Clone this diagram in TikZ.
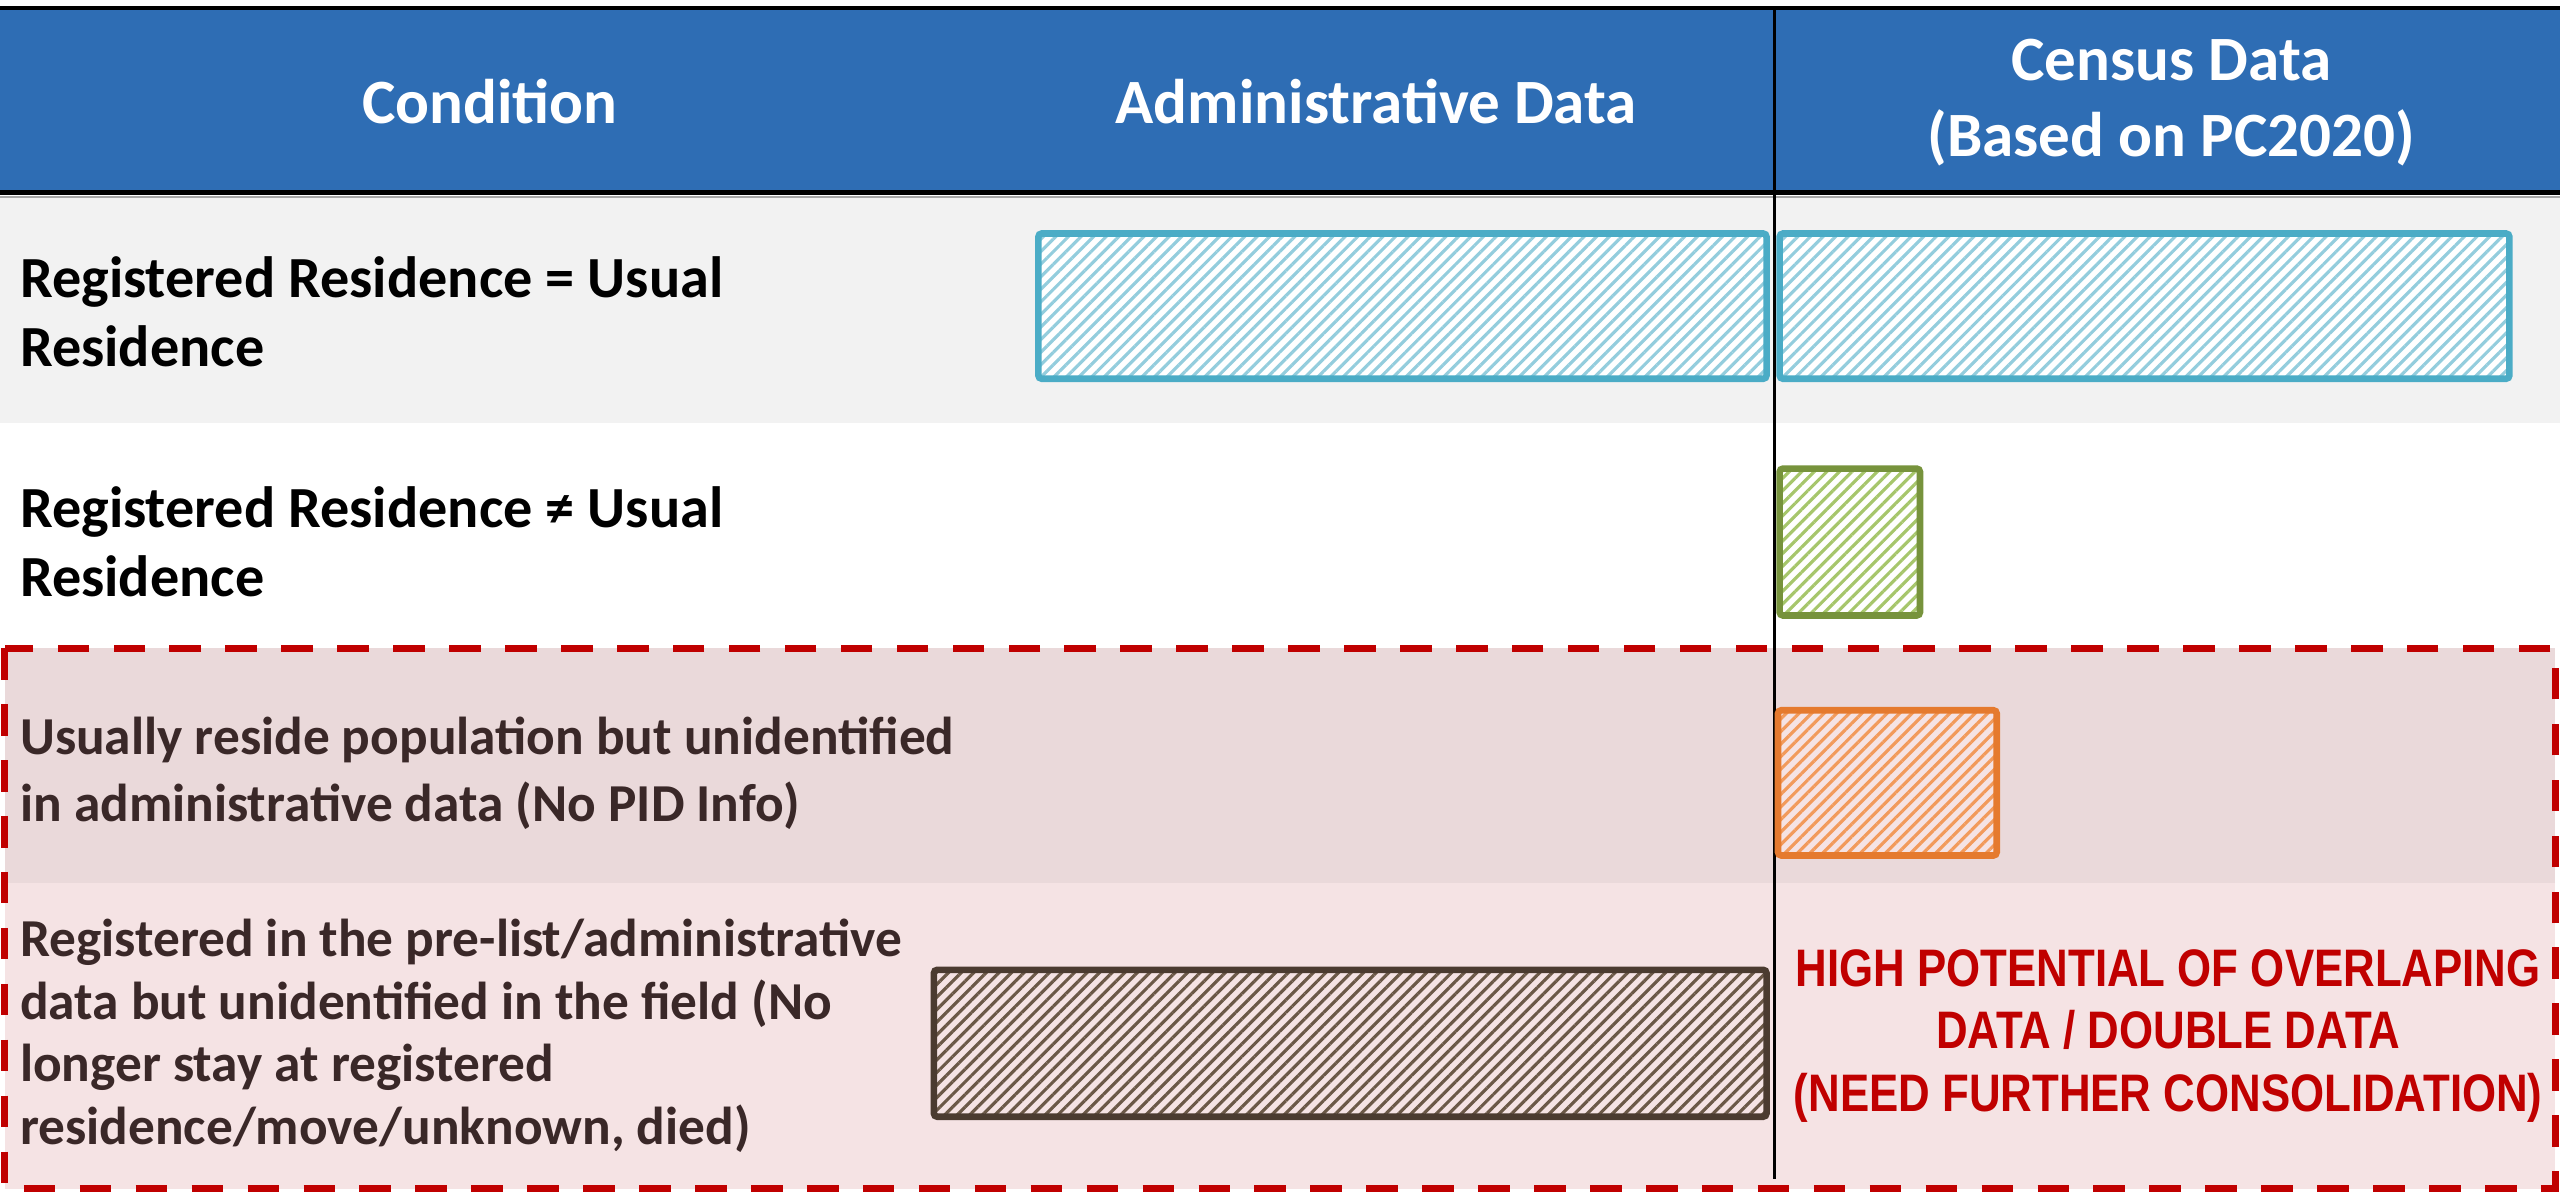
\documentclass[tikz,border=0pt]{standalone}
\usepackage{fontspec}
\setmainfont{Carlito}
\newfontfamily\narrowsans{Liberation Sans}[FakeStretch=0.83]
\usetikzlibrary{patterns.meta}

\definecolor{headblue}{HTML}{2E6DB4}
\definecolor{rowgray}{HTML}{F2F2F2}
\definecolor{rowthree}{HTML}{EAD9DA}
\definecolor{rowfour}{HTML}{F5E3E4}
\definecolor{darktext}{HTML}{3A2828}
\definecolor{alertred}{HTML}{C00000}
\definecolor{aqualine}{HTML}{4BACC6}
\definecolor{aquastripe}{HTML}{93CDDD}
\definecolor{greenline}{HTML}{77933C}
\definecolor{greenstripe}{HTML}{A6C66B}
\definecolor{orangeline}{HTML}{E57A2E}
\definecolor{orangestripe}{HTML}{F29A5B}
\definecolor{brownline}{HTML}{4B3B30}
\definecolor{brownstripe}{HTML}{6B5847}

\begin{document}
\begin{tikzpicture}[x=0.02cm,y=-0.02cm]
	\tikzset{headlabel/.style = {align=center,inner sep=0pt,text=white,font=\bfseries\fontsize{22}{26.5}\selectfont}}
	\tikzset{rowlabel/.style = {anchor=west,align=left,inner sep=0pt,font=\bfseries\fontsize{20.3}{24}\selectfont}}
	\tikzset{pinklabel/.style = {rowlabel,text=darktext}}
	\tikzset{redlabel/.style = {align=center,inner sep=0pt,text=alertred,font=\narrowsans\bfseries\fontsize{18.4}{21.8}\selectfont}}
	\tikzset{bar/.style n args = {3}{draw=#1,line width=2.3pt,rounded corners=1.2pt,
		preaction={fill=#3},
		preaction={pattern={Lines[angle=45,distance=3.1pt,line width=1.1pt]},pattern color=#2}}}
	\useasboundingbox (0,0) rectangle (1568,730);
	% table body
	\fill[headblue] (0,5) rectangle (1568,117);
	\fill[rowgray] (0,120) rectangle (1568,259);
	\fill[rowthree] (3,397) rectangle (1565,541);
	\fill[rowfour] (3,541) rectangle (1565,728);
	\draw[line width=1.2pt] (0,5) -- (1568,5);
	\draw[line width=1.8pt] (0,118) -- (1568,118);
	\draw[black!35,line width=0.6pt] (0,120.5) -- (1568,120.5);
	\draw[line width=0.9pt] (1087,5) -- (1087,722);
	% header
	\node[headlabel] (hcond) at (300,62) {Condition};
	\node[headlabel] (hadmin) at (843,62) {Administrative Data};
	\node[headlabel] (hcensus) at (1330,63) {Census Data\\(Based on PC2020)};
	% conditions
	\node[rowlabel] (rsame) at (12,191) {Registered Residence = Usual\\Residence};
	\node[rowlabel] (rdiff) at (12,332) {Registered Residence ≠ Usual\\Residence};
	\node[pinklabel,font=\bfseries\fontsize{18.6}{23.2}\selectfont] (rnopid) at (12,473.5) {Usually reside population but unidentified\\in administrative data (No PID Info)};
	\node[pinklabel,font=\bfseries\fontsize{18.6}{21.8}\selectfont] (rgone) at (12,634.5) {Registered in the pre-list/administrative\\data but unidentified in the field (No\\longer stay at registered\\residence/move/unknown, died)};
	% bars
	\draw[bar={aqualine}{aquastripe}{white}] (636,143) rectangle (1082,232);
	\draw[bar={aqualine}{aquastripe}{white}] (1090,143) rectangle (1537,232);
	\draw[bar={greenline}{greenstripe}{white}] (1090,287) rectangle (1176,377);
	\draw[bar={orangeline}{orangestripe}{rowfour}] (1089,435) rectangle (1223,524);
	\draw[bar={brownline}{brownstripe}{rowfour}] (572,594) rectangle (1082,684);
	\node[redlabel] (overlap) at (1328,634.5) {HIGH POTENTIAL OF OVERLAPING\\DATA / DOUBLE DATA\\(NEED FURTHER CONSOLIDATION)};
	% unresolved area
	\draw[alertred,line width=2.4pt,dash pattern=on 11pt off 8.5pt] (3,397) rectangle (1565,728);
\end{tikzpicture}
\end{document}
